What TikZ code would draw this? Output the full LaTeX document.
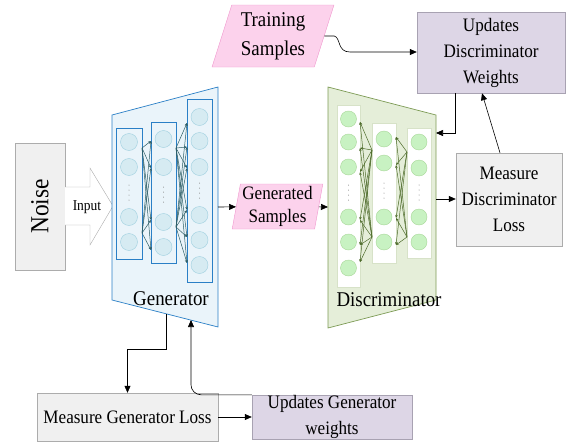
\documentclass[tikz,border=0pt]{standalone}
\usepackage{fontspec}
\setmainfont[FakeStretch=0.9]{Liberation Serif}
\usepackage{tikz}
\usetikzlibrary{shapes.geometric,arrows.meta,positioning}
\definecolor{genblue}{RGB}{42,127,198}
\definecolor{genbg}{RGB}{234,244,250}
\definecolor{gencellfill}{RGB}{214,235,242}
\definecolor{gencelledge}{RGB}{160,208,224}
\definecolor{genwire}{RGB}{46,94,102}
\definecolor{discolive}{RGB}{125,155,85}
\definecolor{discbg}{RGB}{229,238,217}
\definecolor{disclayeredge}{RGB}{215,226,200}
\definecolor{disccellfill}{RGB}{200,242,194}
\definecolor{disccelledge}{RGB}{168,216,152}
\definecolor{discwire}{RGB}{77,107,42}
\definecolor{samplepink}{RGB}{252,210,236}
\definecolor{sampleedge}{RGB}{240,150,205}
\definecolor{lossgray}{RGB}{240,240,240}
\definecolor{boxedge}{RGB}{172,172,172}
\definecolor{updlav}{RGB}{221,214,230}
\definecolor{updedge}{RGB}{168,162,178}
\tikzset{
  txt/.style={font=\rmfamily\fontsize{19}{26}\selectfont, align=center},
  lossbox/.style={rectangle, draw=boxedge, fill=lossgray, txt, inner sep=0pt},
  updbox/.style={rectangle, draw=updedge, fill=updlav, txt, inner sep=0pt},
  samplebox/.style={trapezium, trapezium stretches=true, draw=sampleedge,
                    fill=samplepink, txt, inner sep=0pt},
  flow/.style={->, black, line width=0.6pt},
  genbody/.style={draw=genblue, fill=genbg, line width=0.7pt},
  genlayer/.style={rectangle, draw=genblue, line width=0.8pt, inner sep=0pt},
  gencell/.style={circle, draw=gencelledge, fill=gencellfill, minimum size=17pt, inner sep=0pt},
  genlink/.style={-{Stealth[length=3pt,width=2.5pt]}, genwire, line width=0.5pt},
  discbody/.style={draw=discolive, fill=discbg, line width=0.7pt},
  disclayer/.style={rectangle, draw=disclayeredge, fill=white, inner sep=0pt},
  disccell/.style={circle, draw=disccelledge, fill=disccellfill, minimum size=16pt, inner sep=0pt},
  disclink/.style={-{Stealth[length=3pt,width=2.5pt]}, discwire, line width=0.5pt},
  netlabel/.style={font=\rmfamily\fontsize{21}{24}\selectfont},
}

\begin{document}
\begin{tikzpicture}[x=1pt, y=-1pt, >={Triangle[length=7pt,width=6pt]}]
  \useasboundingbox (0,0) rectangle (566,442);

  % noise source and input arrow
  \node[lossbox, rotate=90, minimum width=127, minimum height=50,
        font=\rmfamily\fontsize{26}{28}\selectfont] (noise) at (40,206.5) {Noise};
  \draw[boxedge, fill=white] (65,187) -- (90,187) -- (90,168) -- (113,206)
    -- (90,245) -- (90,225) -- (65,225);
  \node[font=\rmfamily\fontsize{15}{17}\selectfont] (input) at (87,207) {Input};

  % generator
  \draw[genbody] (112,115) -- (218,87) -- (218,327) -- (112,300) -- cycle;
  \node[genlayer, minimum width=26, minimum height=131] (g1) at (129,193.5) {};
  \node[genlayer, minimum width=25, minimum height=141] (g2) at (163.5,192.5) {};
  \node[genlayer, minimum width=25, minimum height=183] (g3) at (199.5,190.5) {};
  \foreach \y in {142,167,217,242} \node[gencell] (ga\y) at (129,\y) {};
  \foreach \y in {139,167,222,247} \node[gencell] (gb\y) at (163.5,\y) {};
  \foreach \y in {117,141,167,215,240,265} \node[gencell] (gc\y) at (199.5,\y) {};
  \foreach \d in {0,...,3} {
    \fill[gray] (129,185+\d*5) circle (0.5);
    \fill[gray] (163.5,187+\d*5) circle (0.5);
    \fill[gray] (199.5,183+\d*5) circle (0.5);
  }
  \foreach \s in {148,233} \foreach \t in {141,168,220,250}
    \draw[genlink] (142,\s) -- (151,\t);
  \foreach \s in {148,227} \foreach \t in {123,147,168,210,237,263}
    \draw[genlink] (176,\s) -- (187,\t);
  \node[netlabel] (genname) at (171,299) {Generator};
  \coordinate (genout) at (218,207);
  \coordinate (genloss) at (166,314);
  \coordinate (genback) at (191,320);

  % discriminator
  \draw[discbody] (328,87) -- (436,115) -- (436,300) -- (328,328) -- cycle;
  \node[disclayer, minimum width=23, minimum height=182] (d1) at (348.5,196) {};
  \node[disclayer, minimum width=24, minimum height=140] (d2) at (384,193) {};
  \node[disclayer, minimum width=24, minimum height=130] (d3) at (419,193) {};
  \foreach \y in {119,142,167,217,242,268} \node[disccell] (da\y) at (348.5,\y) {};
  \foreach \y in {139,163,217,242} \node[disccell] (db\y) at (384,\y) {};
  \foreach \y in {142,168,217,242} \node[disccell] (dc\y) at (419,\y) {};
  \foreach \d in {0,...,3} {
    \fill[gray] (348.5,185+\d*5) circle (0.5);
    \fill[gray] (384,183+\d*5) circle (0.5);
    \fill[gray] (419,185+\d*5) circle (0.5);
  }
  \foreach \s in {150,237} \foreach \t in {122,148,172,220,245,262}
    \draw[disclink] (372,\s) -- (360,\t);
  \foreach \s in {152,237} \foreach \t in {137,165,218,245}
    \draw[disclink] (407,\s) -- (396,\t);
  \node[netlabel] (discname) at (389,300) {Discriminator};
  \coordinate (discin) at (328,207);
  \coordinate (discout) at (436,199);
  \coordinate (discback) at (436,133);

  % samples
  \node[samplebox, trapezium left angle=79, trapezium right angle=101,
        minimum width=91, minimum height=45] (gensamp) at (277.5,206.5)
        {Generated\\[-3pt]Samples};
  \node[samplebox, trapezium left angle=72, trapezium right angle=108,
        minimum width=122, minimum height=62, font=\rmfamily\fontsize{21}{29}\selectfont]
        (trainsamp) at (273,36) {Training\\Samples};

  % loss and update boxes
  \node[updbox, minimum width=148, minimum height=81] (udw) at (491,52.5)
        {Updates\\Discriminator\\Weights};
  \node[lossbox, minimum width=106, minimum height=93] (mdl) at (509,199.5)
        {Measure\\Discriminator\\Loss};
  \node[lossbox, minimum width=181, minimum height=48] (mgl) at (127.5,417)
        {Measure Generator Loss};
  \node[updbox, minimum width=160, minimum height=44] (ugw) at (332,417)
        {Updates Generator\\weights};

  % connectors
  \draw[flow] (genout) -- (gensamp);
  \draw[flow] (gensamp) -- (discin);
  \draw[flow] (trainsamp.east) -- ++(10,0) .. controls (341,38) and (337,52) .. (350,52)
    -- (udw.west |- 0,52);
  \draw[flow] (discout) -- (mdl.west |- discout);
  \draw[flow] ([xshift=-9]mdl.north) -- ([xshift=-9]udw.south);
  \draw[flow] ([xshift=-36]udw.south) |- (discback);
  \draw[flow] (genloss) -- ++(0,35) -| (mgl.north);
  \draw[flow] (mgl) -- (ugw);
  \draw[flow, rounded corners=10] (ugw.north west) -| (genback);
\end{tikzpicture}
\end{document}
